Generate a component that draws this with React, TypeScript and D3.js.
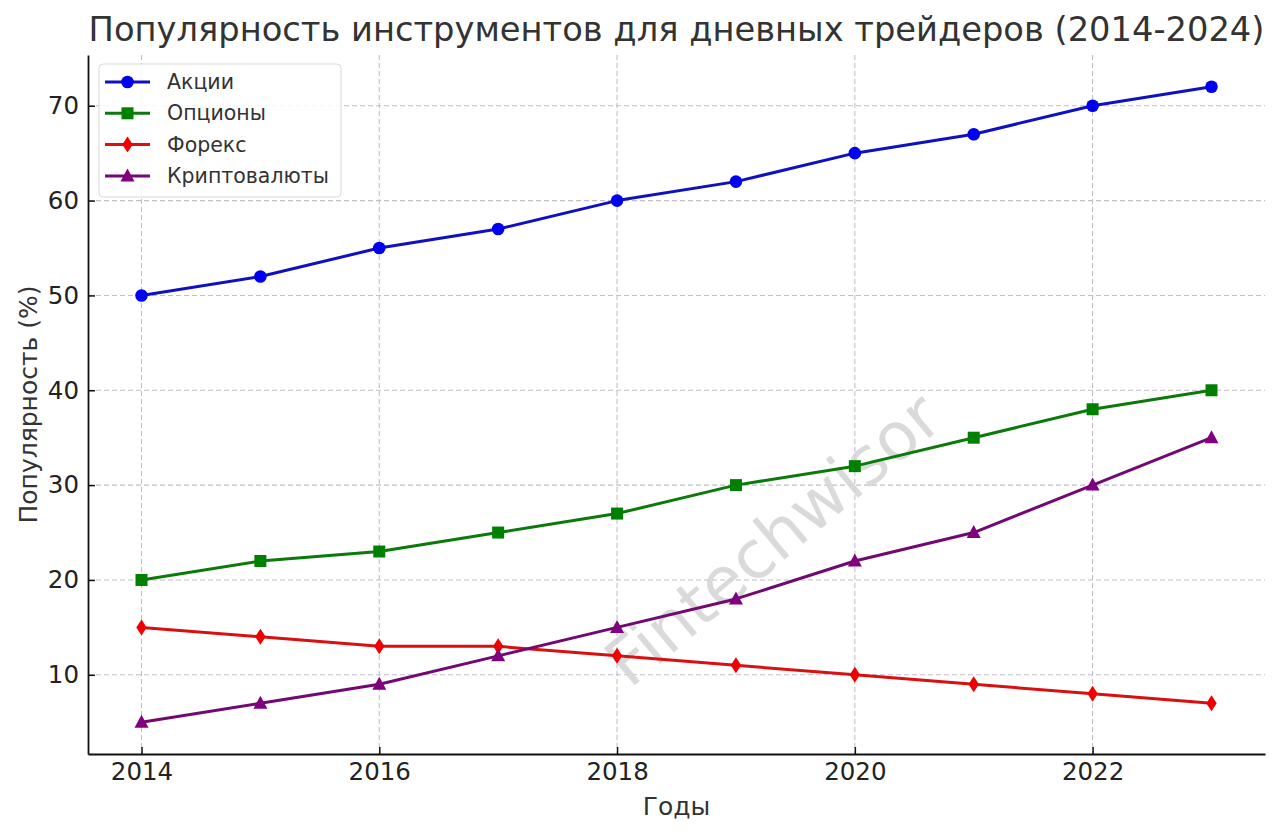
import { useEffect, useRef } from "react";
import * as d3 from "d3";

const years = [2014, 2015, 2016, 2017, 2018, 2019, 2020, 2021, 2022, 2023];
const stocks = [50, 52, 55, 57, 60, 62, 65, 67, 70, 72];
const options = [20, 22, 23, 25, 27, 30, 32, 35, 38, 40];
const forex = [15, 14, 13, 13, 12, 11, 10, 9, 8, 7];
const crypto = [5, 7, 9, 12, 15, 18, 22, 25, 30, 35];
const xTicks = [2014, 2016, 2018, 2020, 2022];
const yTicks = [10, 20, 30, 40, 50, 60, 70];

const series = [
  { name: "Акции", values: stocks, color: "#0000f0", line: "#1010c0", marker: "circle" },
  { name: "Опционы", values: options, color: "#008000", line: "#0b7a0b", marker: "square" },
  { name: "Форекс", values: forex, color: "#f00000", line: "#d81010", marker: "diamond" },
  { name: "Криптовалюты", values: crypto, color: "#800080", line: "#720872", marker: "triangle" },
];

const FONT = "DejaVu Sans, sans-serif";

function drawMarker(g: d3.Selection<SVGGElement, unknown, null, undefined>, kind: string, x: number, y: number, color: string) {
  if (kind === "circle") {
    g.append("circle").attr("cx", x).attr("cy", y).attr("r", 6.3).attr("fill", color);
  } else if (kind === "square") {
    g.append("rect").attr("x", x - 6).attr("y", y - 6).attr("width", 12).attr("height", 12).attr("fill", color);
  } else if (kind === "diamond") {
    g.append("path")
      .attr("d", `M${x},${y - 8}L${x + 5.2},${y}L${x},${y + 8}L${x - 5.2},${y}Z`)
      .attr("fill", color);
  } else {
    g.append("path")
      .attr("d", `M${x},${y - 7.5}L${x + 7},${y + 5.5}L${x - 7},${y + 5.5}Z`)
      .attr("fill", color);
  }
}

export default function App() {
  const ref = useRef<SVGSVGElement | null>(null);

  useEffect(() => {
    document.body.style.margin = "0";
    if (!ref.current) return;
    const svg = d3.select(ref.current);
    svg.selectAll("*").remove();

    const width = 1280;
    const height = 835;
    const margin = { top: 55, right: 15, bottom: 81, left: 88 };

    const x = d3.scaleLinear()
      .domain([2013.55, 2023.45])
      .range([margin.left, width - margin.right]);
    const y = d3.scaleLinear()
      .domain([1.65, 75.35])
      .range([height - margin.bottom, margin.top]);

    svg.append("rect").attr("width", width).attr("height", height).attr("fill", "white");

    // grid
    const grid = svg.append("g");
    grid.selectAll("line.gx")
      .data(xTicks)
      .enter()
      .append("line")
      .attr("x1", d => x(d)).attr("x2", d => x(d))
      .attr("y1", margin.top).attr("y2", height - margin.bottom)
      .attr("stroke", "#c4bccb").attr("stroke-dasharray", "5,3").attr("stroke-width", 1.1);
    grid.selectAll("line.gy")
      .data(yTicks)
      .enter()
      .append("line")
      .attr("x1", margin.left).attr("x2", width - margin.right)
      .attr("y1", d => y(d)).attr("y2", d => y(d))
      .attr("stroke", "#c4bccb").attr("stroke-dasharray", "5,3").attr("stroke-width", 1.1);

    // watermark
    svg.append("text")
      .attr("transform", "translate(776,543) rotate(-40)")
      .attr("text-anchor", "middle")
      .attr("dominant-baseline", "middle")
      .attr("font-family", FONT)
      .attr("font-size", 66)
      .attr("fill", "#d4d4d4")
      .attr("fill-opacity", 0.85)
      .text("Fintechwisor");

    // lines + markers
    const line = d3.line<number>()
      .x((_, i) => x(years[i]))
      .y(d => y(d));

    series.forEach(s => {
      svg.append("path")
        .datum(s.values)
        .attr("d", line)
        .attr("fill", "none")
        .attr("stroke", s.line)
        .attr("stroke-width", 3)
        .attr("stroke-linejoin", "round");
      const mg = svg.append("g");
      s.values.forEach((v, i) => drawMarker(mg, s.marker, x(years[i]), y(v), s.color));
    });

    // axes
    const xAxis = svg.append("g")
      .attr("transform", `translate(0,${height - margin.bottom})`)
      .call(d3.axisBottom(x).tickValues(xTicks).tickFormat(d3.format("d")).tickSizeInner(-7).tickSizeOuter(0).tickPadding(9));
    const yAxis = svg.append("g")
      .attr("transform", `translate(${margin.left},0)`)
      .call(d3.axisLeft(y).tickValues(yTicks).tickSizeInner(-7).tickSizeOuter(0).tickPadding(9));
    [xAxis, yAxis].forEach(a => {
      a.select(".domain").attr("stroke", "#111").attr("stroke-width", 1.8);
      a.selectAll(".tick line").attr("stroke", "#111").attr("stroke-width", 1.5);
      a.selectAll("text").attr("fill", "#222").attr("font-family", FONT).attr("font-size", 24.5);
    });

    // axis labels
    svg.append("text")
      .attr("x", (margin.left + width - margin.right) / 2)
      .attr("y", 806)
      .attr("text-anchor", "middle")
      .attr("dominant-baseline", "central")
      .attr("font-family", FONT)
      .attr("font-size", 25)
      .attr("fill", "#333")
      .text("Годы");
    svg.append("text")
      .attr("transform", `translate(28,${(margin.top + height - margin.bottom) / 2}) rotate(-90)`)
      .attr("text-anchor", "middle")
      .attr("dominant-baseline", "central")
      .attr("font-family", FONT)
      .attr("font-size", 25)
      .attr("fill", "#333")
      .text("Популярность (%)");

    // title
    svg.append("text")
      .attr("x", (margin.left + width - margin.right) / 2)
      .attr("y", 29)
      .attr("text-anchor", "middle")
      .attr("dominant-baseline", "central")
      .attr("font-family", FONT)
      .attr("font-size", 33.7)
      .attr("fill", "#333")
      .text("Популярность инструментов для дневных трейдеров (2014-2024)");

    // legend
    const lg = svg.append("g").attr("transform", "translate(99,64)");
    lg.append("rect")
      .attr("width", 242).attr("height", 133).attr("rx", 4)
      .attr("fill", "white").attr("fill-opacity", 0.85)
      .attr("stroke", "#d8d8d8");
    series.forEach((s, i) => {
      const cy = 18 + i * 31.3;
      lg.append("line")
        .attr("x1", 6).attr("x2", 51).attr("y1", cy).attr("y2", cy)
        .attr("stroke", s.line).attr("stroke-width", 3);
      const mg = lg.append("g");
      drawMarker(mg, s.marker, 28.5, cy, s.color);
      lg.append("text")
        .attr("x", 68).attr("y", cy)
        .attr("dominant-baseline", "central")
        .attr("font-family", FONT)
        .attr("font-size", 20.5)
        .attr("fill", "#333")
        .text(s.name);
    });
  }, []);

  return <svg ref={ref} width={1280} height={835} style={{ display: "block" }} />;
}
